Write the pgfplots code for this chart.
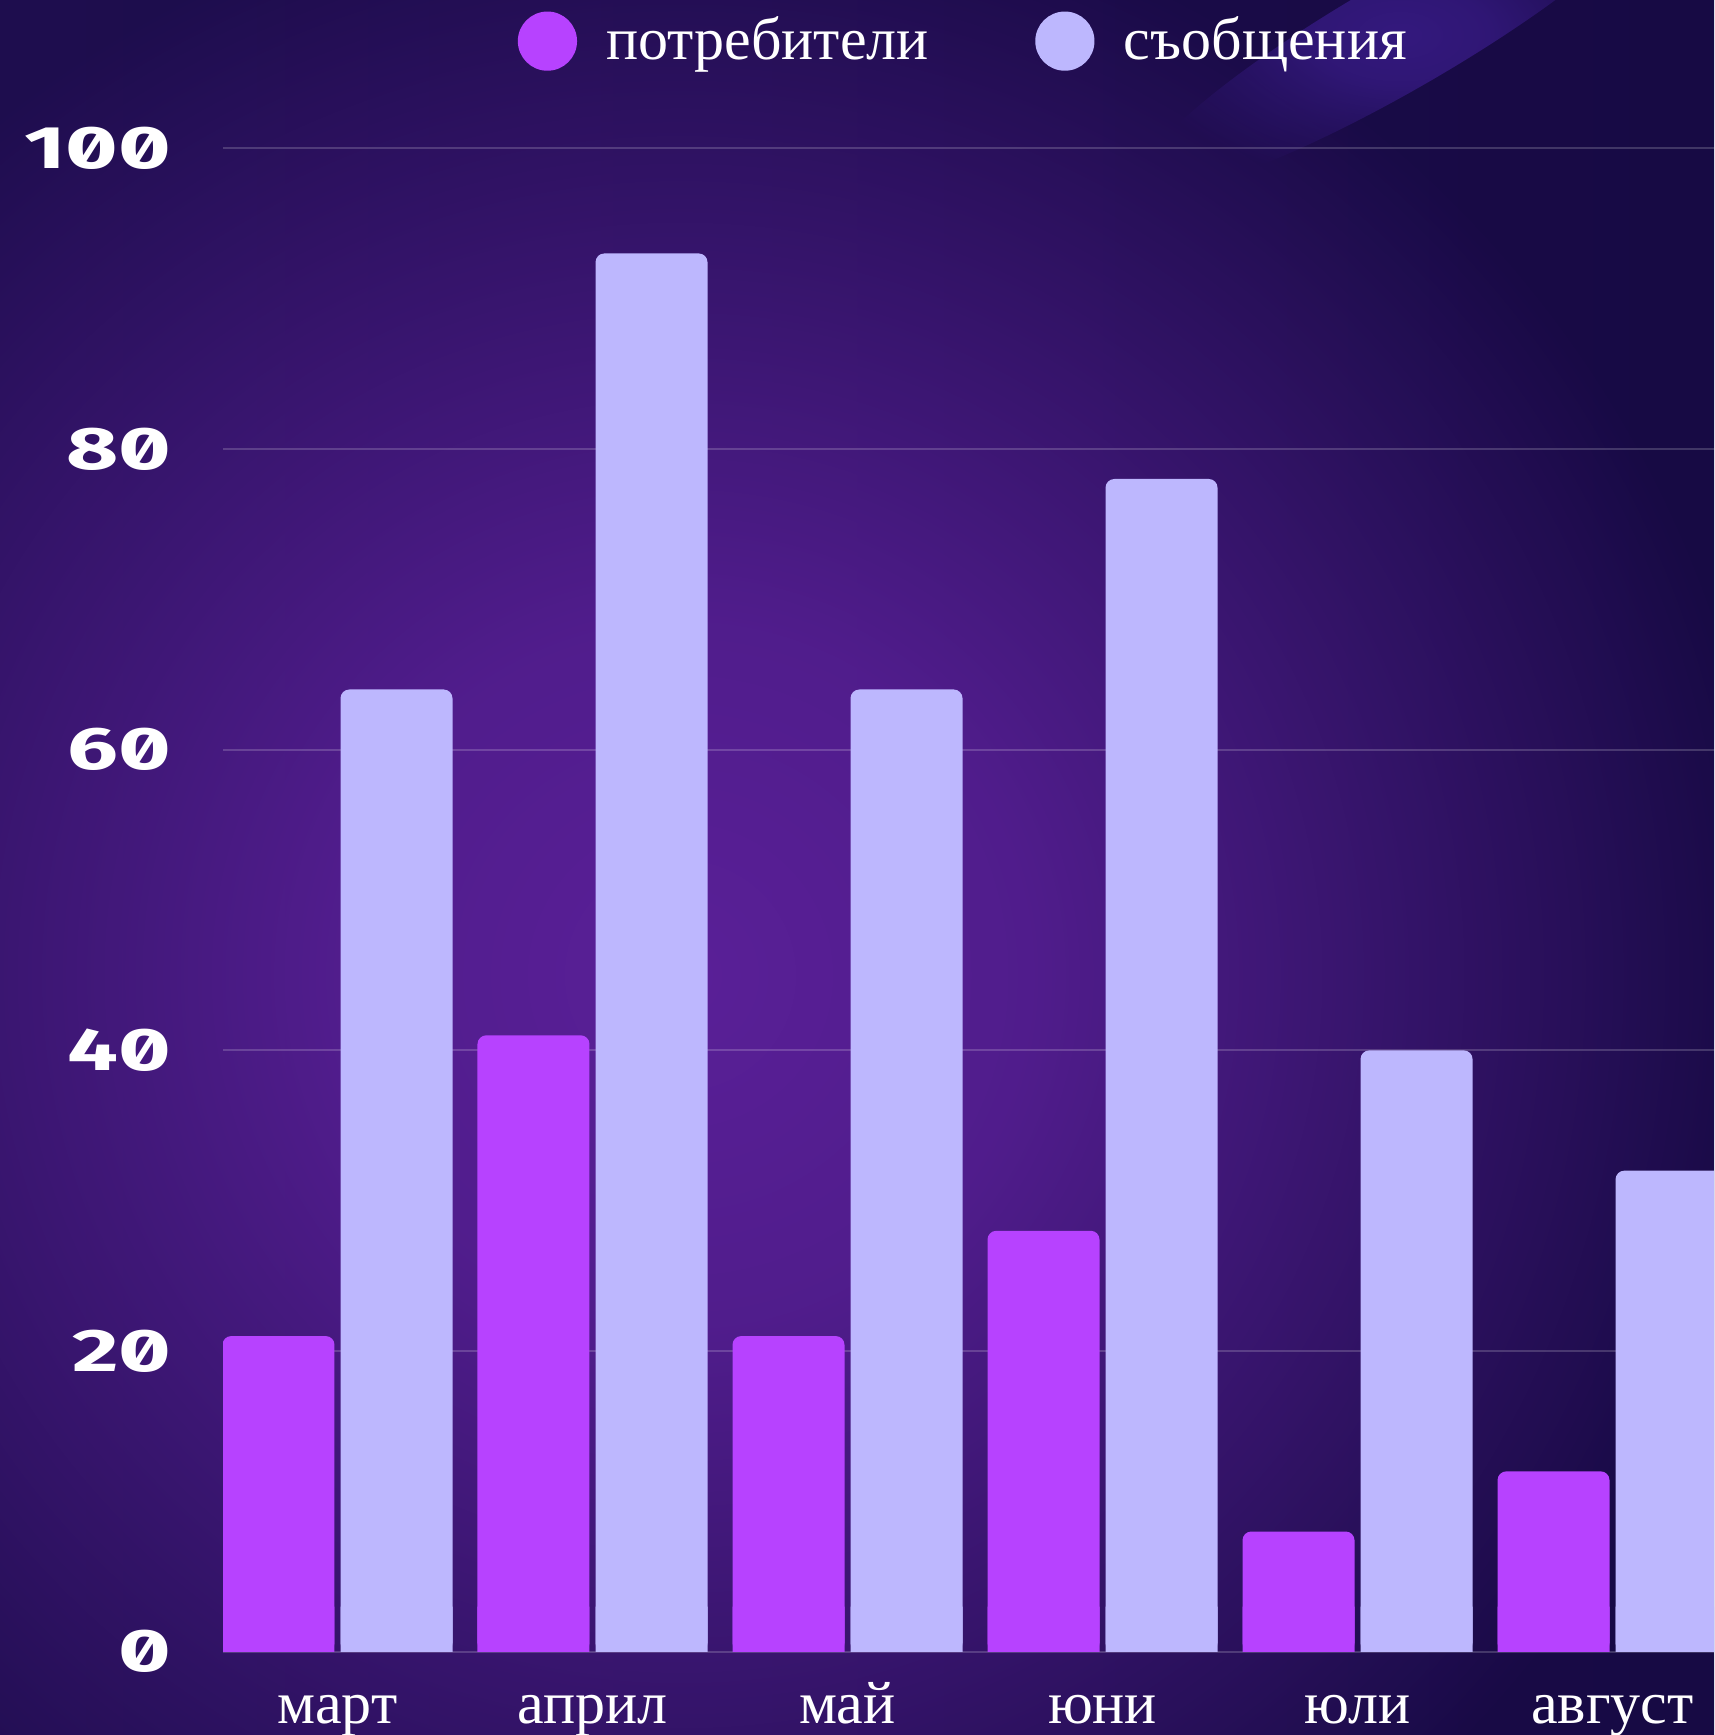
\documentclass[border=0pt]{standalone}
\usepackage{fontspec}
\setmainfont{Liberation Serif}
\newfontfamily\tickfont[Numbers=SlashedZero]{Fira Sans}
\usepackage{graphicx}
\usepackage{pgfplots}
\usepackage{pgfplotstable}
\pgfplotsset{compat=1.18}
\usetikzlibrary{fadings}

\definecolor{bgL}{HTML}{1E0D4E}
\definecolor{bgR}{HTML}{170A44}
\definecolor{glow}{HTML}{5A2098}
\definecolor{streak}{HTML}{34197E}
\definecolor{usr}{HTML}{B742FF}
\definecolor{msg}{HTML}{BDB7FE}

\pgfdeclareradialshading{glowmask}{\pgfpointorigin}{color(0bp)=(white); color(8bp)=(white!85!black); color(25bp)=(black); color(50bp)=(black)}
\pgfdeclarefading{glowfade}{\pgfuseshading{glowmask}}

\newcommand\tk[1]{\scalebox{1.5}[1]{\tickfont\bfseries #1}}

\pgfplotstableread{
x usr msg base
0 21 64 3
1 41 93 3
2 21 64 3
3 28 78 3
4 8 40 3
5 12 32 3
}\datatable

\begin{document}
\begin{tikzpicture}[x=0.25pt,y=0.25pt]
\useasboundingbox (0,0) rectangle (1714,1735);
\begin{scope}
\clip (0,0) rectangle (1714,1735);
\shade[left color=bgL, right color=bgR] (0,0) rectangle (1714,1735);
\fill[glow, path fading=glowfade] (680,760) circle (1100);
\fill[streak, path fading=glowfade, rotate around={30:(1400,1700)}] (1400,1700) ellipse (300 and 55);
\end{scope}
\begin{axis}[
  at={(55.75pt,20.8pt)}, anchor=south west,
  scale only axis, width=372.75pt, height=375.9pt,
  xmin=-0.449, xmax=5.398, ymin=0, ymax=100,
  axis line style={draw=none},
  major tick length=0pt,
  ymajorgrids, grid style={white, opacity=0.18, line width=0.45pt},
  ytick={0,20,40,60,80,100},
  yticklabels={\tk{0},\tk{20},\tk{40},\tk{60},\tk{80},\tk{100}},
  yticklabel style={anchor=east, inner sep=0pt, xshift=-12.75pt, text=white, font=\fontsize{15}{18}\selectfont},
  xtick={0,1,2,3,4,5},
  xticklabels={март,април,май,юни,юли,август},
  xticklabel style={anchor=base, inner sep=0pt, yshift=-18pt, text=white, font=\fontsize{15}{18}\selectfont},
  legend columns=2,
  legend style={at={(0.1972,1.0712)}, anchor=west, draw=none, fill=none, inner sep=0pt, text=white, font=\fontsize{15}{18}\selectfont, /tikz/every odd column/.append style={column sep=5.35pt}, /tikz/every even column/.append style={column sep=24.6pt}},
  clip=true,
]
\addplot[ybar, bar width=0.4392, bar shift=-0.2314, fill=usr, draw=none, rounded corners=2.2pt, legend image code/.code={\fill[usr] (0pt,0pt) circle (7.4pt);}] table[x=x,y=usr]{\datatable};
\addlegendentry{потребители}
\addplot[ybar, bar width=0.4392, bar shift=0.2314, fill=msg, draw=none, rounded corners=2.2pt, legend image code/.code={\fill[msg] (0pt,0pt) circle (7.4pt);}] table[x=x,y=msg]{\datatable};
\addlegendentry{съобщения}
\addplot[ybar, bar width=0.4392, bar shift=-0.2314, fill=usr, draw=none, forget plot] table[x=x,y=base]{\datatable};
\addplot[ybar, bar width=0.4392, bar shift=0.2314, fill=msg, draw=none, forget plot] table[x=x,y=base]{\datatable};
\end{axis}
\end{tikzpicture}
\end{document}
